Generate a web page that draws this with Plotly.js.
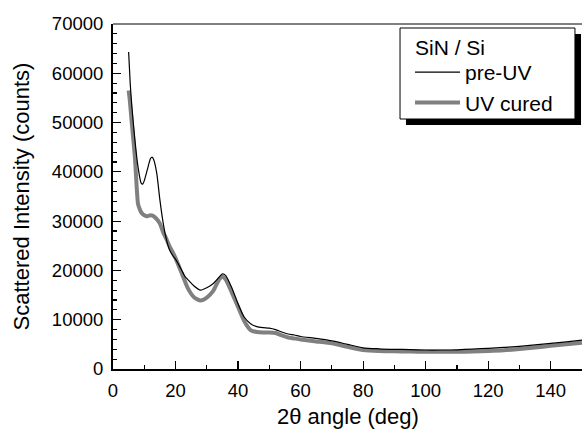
<!DOCTYPE html>
<html>
<head>
<meta charset="utf-8">
<script src="https://cdn.plot.ly/plotly-3.0.1.min.js"></script>
<style>html,body{margin:0;padding:0;background:#fff;}#chart{width:582px;height:430px;}</style>
</head>
<body>
<div id="chart"></div>
<script>
// 2theta angle (deg) and scattered intensity (counts)
const preUV_x = [5, 5.5, 6, 7, 8, 9, 9.5, 10, 11, 12, 12.5, 13, 14, 15, 16, 17, 18, 19, 20, 22, 23, 24, 26, 28, 30, 32, 34, 35, 36, 38, 40, 42, 44, 46, 48, 50, 52, 54, 56, 58, 60, 65, 70, 75, 80, 85, 90, 95, 100, 105, 110, 115, 120, 125, 130, 135, 140, 145, 150];
const preUV_y = [64300, 58000, 53500, 46500, 41000, 37700, 37500, 38200, 40500, 42700, 43000, 42500, 39700, 34300, 29800, 26500, 24300, 23100, 22300, 20000, 18800, 18100, 16800, 16000, 16500, 17300, 18700, 19300, 19000, 16500, 13200, 10500, 9200, 8600, 8400, 8300, 8000, 7500, 7100, 6900, 6600, 6200, 5700, 5000, 4300, 4100, 4000, 3950, 3850, 3850, 3900, 4050, 4200, 4400, 4600, 4900, 5200, 5500, 5850];
const uv_x = [5, 5.3, 6, 7, 8, 8.5, 9, 10, 11, 12, 13, 14, 15, 16, 17, 18, 19, 20, 22, 24, 26, 28, 30, 32, 34, 35, 36, 38, 40, 42, 44, 46, 48, 50, 52, 54, 56, 58, 60, 65, 70, 75, 80, 85, 90, 95, 100, 105, 110, 115, 120, 125, 130, 135, 140, 145, 150];
const uv_y = [56500, 55000, 50000, 43000, 33500, 32500, 31800, 31200, 31000, 31200, 31000, 30400, 29500, 27800, 26500, 25000, 23800, 22500, 19400, 16300, 14500, 13900, 14500, 15800, 18200, 18700, 18200, 15500, 12600, 9700, 7900, 7500, 7400, 7400, 7300, 6800, 6400, 6200, 6000, 5600, 5200, 4500, 3850, 3650, 3600, 3550, 3500, 3500, 3500, 3550, 3650, 3800, 4050, 4350, 4700, 5000, 5350];
const legendTitle = "SiN / Si";
const seriesNames = ["pre-UV", "UV cured"];
const xTitle = "2\u03B8 angle (deg)";
const yTitle = "Scattered Intensity (counts)";

const font = "'Liberation Sans', Arial, sans-serif";

const traces = [
  {x: uv_x, y: uv_y, name: seriesNames[1], type: "scatter", mode: "lines",
   line: {color: "#808080", width: 4, shape: "spline", smoothing: 0.6}, legendrank: 2},
  {x: preUV_x, y: preUV_y, name: seriesNames[0], type: "scatter", mode: "lines",
   line: {color: "#000000", width: 1.2, shape: "spline", smoothing: 0.6}, legendrank: 1}
];

const layout = {
  width: 582, height: 430,
  margin: {l: 113, r: 0, t: 24, b: 61},
  paper_bgcolor: "#fff", plot_bgcolor: "#fff",
  font: {family: font, size: 18.5, color: "#000"},
  showlegend: true,
  legend: {
    x: 0.6333, y: 0.9188, xanchor: "left", yanchor: "top",
    bgcolor: "rgba(0,0,0,0)", borderwidth: 0,
    font: {family: font, size: 21, color: "#000"},
    itemwidth: 45, tracegroupgap: 0
  },
  annotations: [
    {xref: "paper", yref: "paper", x: 0.6397, y: 0.933, xanchor: "left", yanchor: "middle",
     text: legendTitle, showarrow: false, font: {family: font, size: 21, color: "#000"}},
    {xref: "paper", yref: "paper", x: 0.5, y: -0.139, xanchor: "center", yanchor: "middle",
     text: xTitle, showarrow: false, font: {family: font, size: 22, color: "#000"}}
  ],
  xaxis: {
    range: [0, 150], tick0: 0, dtick: 20, showgrid: false, zeroline: false,
    showline: true, linecolor: "#000", linewidth: 2,
    ticks: "inside", ticklen: 8, tickwidth: 1.2, tickcolor: "#000",
    minor: {dtick: 10, ticks: "inside", ticklen: 4, tickwidth: 1.2, tickcolor: "#000"},
    tickfont: {family: font, size: 18.5}, ticklabelstandoff: 4
  },
  yaxis: {
    range: [0, 70000], tick0: 0, dtick: 10000, showgrid: false, zeroline: false,
    showline: true, linecolor: "#000", linewidth: 2,
    ticks: "inside", ticklen: 8, tickwidth: 1.2, tickcolor: "#000",
    minor: {dtick: 2000, ticks: "inside", ticklen: 4, tickwidth: 1.2, tickcolor: "#000"},
    tickfont: {family: font, size: 18.5}, ticklabelstandoff: 4, tickformat: "d",
    title: {text: yTitle, font: {family: font, size: 22}, standoff: 16}
  },
  shapes: [
    {type: "line", xref: "paper", yref: "paper", x0: 0, x1: 1, y0: 1, y1: 1,
     line: {color: "#000", width: 1}},
    {type: "rect", xref: "paper", yref: "paper", x0: 0.6247, x1: 0.9979, y0: 0.7072, y1: 0.971,
     fillcolor: "#000", line: {width: 0}, layer: "above"},
    {type: "rect", xref: "paper", yref: "paper", x0: 0.612, x1: 0.985, y0: 0.7246, y1: 0.9884,
     fillcolor: "#fff", line: {color: "#000", width: 1}, layer: "above"}
  ]
};

Plotly.newPlot("chart", traces, layout, {displayModeBar: false, staticPlot: true});
</script>
</body>
</html>
